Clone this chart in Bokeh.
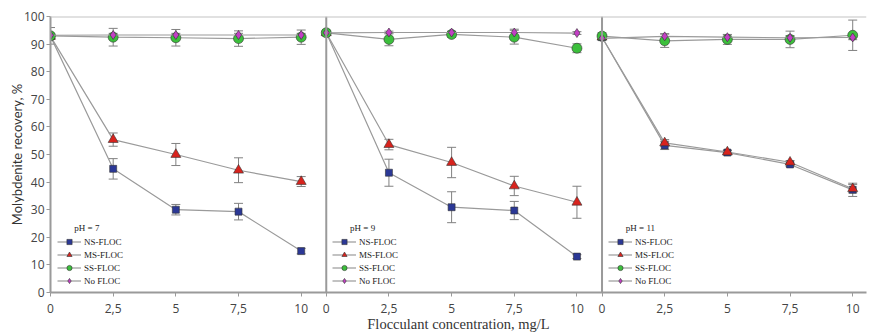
from bokeh.plotting import figure
from bokeh.models import (ColumnDataSource, Whisker, Span, Legend, LegendItem,
                          FixedTicker, Label, TeeHead, Range1d)
from bokeh.embed import file_html
from bokeh.resources import INLINE

conc = [0, 2.5, 5, 7.5, 10]
tick_labels = ["0", "2,5", "5", "7,5", "10"]
panels = ["pH = 7", "pH = 9", "pH = 11"]
series = ["NS-FLOC", "MS-FLOC", "SS-FLOC", "No FLOC"]

# pH = 7
ns_ph7 = [92.8, 44.8, 30.0, 29.3, 15.0]
ns_ph7_err = [1.0, 3.7, 1.9, 3.0, 1.0]
ms_ph7 = [92.8, 55.4, 50.0, 44.3, 40.2]
ms_ph7_err = [1.0, 2.4, 4.0, 4.5, 1.8]
ss_ph7 = [93.0, 92.5, 92.3, 92.0, 92.5]
ss_ph7_err = [3.0, 3.2, 3.0, 2.8, 2.6]
no_ph7 = [93.2, 93.3, 93.3, 93.3, 93.3]
no_ph7_err = [0.6, 0.6, 0.6, 0.6, 0.6]

# pH = 9
ns_ph9 = [94.1, 43.4, 30.9, 29.7, 13.0]
ns_ph9_err = [0.5, 4.9, 5.6, 3.3, 0.7]
ms_ph9 = [94.1, 53.6, 47.1, 38.6, 32.7]
ms_ph9_err = [0.5, 1.9, 5.5, 3.5, 5.8]
ss_ph9 = [94.1, 91.7, 93.5, 92.5, 88.5]
ss_ph9_err = [0.8, 2.3, 1.0, 2.5, 1.6]
no_ph9 = [94.1, 94.2, 94.2, 94.2, 94.0]
no_ph9_err = [0.5, 0.5, 0.5, 1.2, 0.5]

# pH = 11
ns_ph11 = [92.5, 53.3, 50.7, 46.4, 37.2]
ns_ph11_err = [0.8, 1.5, 0.8, 0.8, 2.4]
ms_ph11 = [92.5, 54.2, 50.9, 47.2, 37.6]
ms_ph11_err = [0.8, 1.2, 0.6, 0.6, 1.5]
ss_ph11 = [92.9, 91.2, 91.7, 91.7, 93.2]
ss_ph11_err = [1.2, 2.4, 1.8, 3.0, 5.5]
no_ph11 = [92.1, 92.8, 92.5, 92.3, 92.4]
no_ph11_err = [0.5, 1.0, 0.8, 0.8, 0.8]

data = [
    [(ns_ph7, ns_ph7_err), (ms_ph7, ms_ph7_err), (ss_ph7, ss_ph7_err), (no_ph7, no_ph7_err)],
    [(ns_ph9, ns_ph9_err), (ms_ph9, ms_ph9_err), (ss_ph9, ss_ph9_err), (no_ph9, no_ph9_err)],
    [(ns_ph11, ns_ph11_err), (ms_ph11, ms_ph11_err), (ss_ph11, ss_ph11_err), (no_ph11, no_ph11_err)],
]

colors = ["#2b3896", "#d8231d", "#3cbf3c", "#c23fc4"]
markers = ["square", "triangle", "circle", "diamond"]
sizes = [7, 10, 10, 9]

span_w = max(conc) + 1  # panel width in x units (incl. gap)

p = figure(width=869, height=334, output_backend="svg", toolbar_location=None,
           x_range=Range1d(0, 32.55), y_range=Range1d(0, 100),
           min_border_left=50, min_border_right=3, min_border_top=16, min_border_bottom=42)
p.outline_line_color = None
p.xgrid.visible = False
p.ygrid.visible = False
p.background_fill_color = "white"

for k, pdata in enumerate(data):
    off = k * span_w
    xs = [c + off for c in conc]
    items = []
    for s, (vals, errs) in enumerate(pdata):
        src = ColumnDataSource(dict(x=xs, y=vals,
                                    upper=[v + e for v, e in zip(vals, errs)],
                                    lower=[v - e for v, e in zip(vals, errs)]))
        w = Whisker(source=src, base="x", upper="upper", lower="lower",
                    line_color="#808080", line_width=1, level="underlay",
                    upper_head=TeeHead(size=9, line_color="#808080", line_width=1),
                    lower_head=TeeHead(size=9, line_color="#808080", line_width=1))
        p.add_layout(w)
        lr = p.line("x", "y", source=src, line_color="#9a9a9a", line_width=1.2)
        sr = p.scatter("x", "y", source=src, marker=markers[s], size=sizes[s],
                       fill_color=colors[s], line_color="#333333", line_width=0.6)
        items.append(LegendItem(label=series[s], renderers=[lr, sr]))
    leg = Legend(items=items, location=(int(7 + k * span_w * 25.06), 5),
                 padding=0, margin=0, spacing=0, glyph_width=24, glyph_height=13,
                 label_height=13, label_standoff=3,
                 label_text_font="Liberation Serif", label_text_font_size="9px",
                 label_text_color="#222222", label_text_line_height=1.0,
                 background_fill_alpha=0, border_line_alpha=0)
    p.add_layout(leg, "center")
    p.add_layout(Label(x=0.95 + off, y=23.2, text=panels[k], text_font="Liberation Serif",
                       text_font_size="9px", text_color="#222222", text_baseline="middle"))

for k in (1, 2):
    p.add_layout(Span(location=k * span_w, dimension="height", line_color="#9a9a9a", line_width=2))
p.add_layout(Span(location=100, dimension="width", line_color="#c4c4c4", line_width=2))

# x axis
ticks = []
overrides = {}
for k in range(3):
    for c, lab in zip(conc, tick_labels):
        t = float(c + k * span_w)
        ticks.append(t)
        overrides[t] = lab
p.xaxis.ticker = FixedTicker(ticks=ticks)
p.xaxis.major_label_overrides = overrides
p.xaxis.minor_tick_line_color = None
p.xaxis.major_tick_out = 4
p.xaxis.major_tick_in = 0
p.xaxis.axis_line_color = "#9a9a9a"
p.xaxis.axis_line_width = 2
p.xaxis.major_tick_line_color = "#9a9a9a"
p.xaxis.major_label_text_font = "Open Sans"
p.xaxis.major_label_text_font_size = "12px"
p.xaxis.major_label_text_color = "#444444"
p.xaxis.major_label_standoff = 7
p.xaxis.axis_label = "Flocculant concentration, mg/L"
p.xaxis.axis_label_text_font = "Liberation Serif"
p.xaxis.axis_label_text_font_size = "14.5px"
p.xaxis.axis_label_text_font_style = "normal"
p.xaxis.axis_label_text_color = "#333333"
p.xaxis.axis_label_standoff = 0

# y axis
p.yaxis.ticker = FixedTicker(ticks=list(range(0, 101, 10)))
p.yaxis.minor_tick_line_color = None
p.yaxis.major_tick_out = 4
p.yaxis.major_tick_in = 0
p.yaxis.axis_line_color = "#9a9a9a"
p.yaxis.axis_line_width = 2
p.yaxis.major_tick_line_color = "#9a9a9a"
p.yaxis.major_label_text_font = "Open Sans"
p.yaxis.major_label_text_font_size = "12px"
p.yaxis.major_label_text_color = "#444444"
p.yaxis.major_label_standoff = 2
p.yaxis.axis_label = "Molybdenite recovery, %"
p.yaxis.axis_label_text_font = "Lato"
p.yaxis.axis_label_text_font_size = "13px"
p.yaxis.axis_label_text_font_style = "normal"
p.yaxis.axis_label_text_color = "#333333"
p.yaxis.axis_label_standoff = -4

open("out.html", "w").write(file_html(p, INLINE))
